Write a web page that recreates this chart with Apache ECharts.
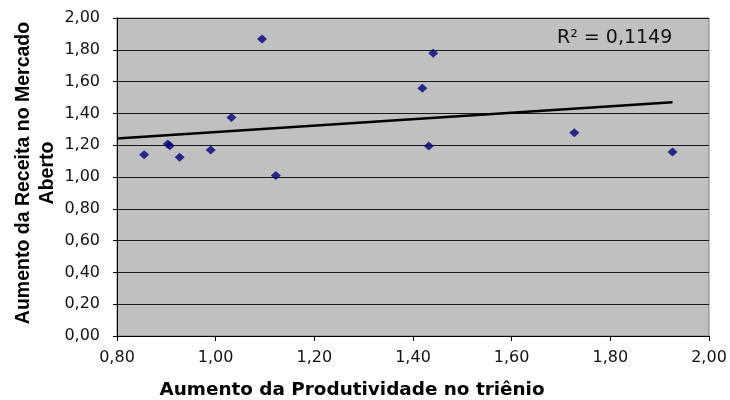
<!DOCTYPE html>
<html>
<head>
<meta charset="utf-8">
<script src="https://cdn.jsdelivr.net/npm/echarts@6/dist/echarts.min.js"></script>
<style>
  html, body { margin: 0; padding: 0; background: #fff; }
  #chart { width: 730px; height: 400px; }
</style>
</head>
<body>
<div id="chart"></div>
<script>
// Productivity increase over the three-year period (x) vs. open-market revenue increase (y)
const produtividade = [0.855, 0.903, 0.907, 0.927, 0.990, 1.032, 1.094, 1.122, 1.419, 1.432, 1.441, 1.727, 1.926];
const receita       = [1.140, 1.208, 1.196, 1.124, 1.170, 1.375, 1.868, 1.010, 1.558, 1.195, 1.778, 1.279, 1.157];

// Linear trend line endpoints and its coefficient of determination
const tendenciaX = [0.80, 1.926];
const tendenciaY = [1.242, 1.470];
const r2Texto = 'R² = 0,1149';

// Axis ranges and tick step
const eixoX = { min: 0.8, max: 2.0, step: 0.2 };
const eixoY = { min: 0.0, max: 2.0, step: 0.2 };

const tituloX = 'Aumento da Produtividade no triênio';
const tituloY = 'Aumento da Receita no Mercado\nAberto';

const pontos = produtividade.map((x, i) => [x, receita[i]]);
const tendencia = tendenciaX.map((x, i) => [x, tendenciaY[i]]);

const fmt = v => v.toFixed(2).replace('.', ',');
const tickFont = { fontFamily: 'DejaVu Sans', fontSize: 16, color: '#111' };

const chart = echarts.init(document.getElementById('chart'), null, { renderer: 'canvas' });
chart.setOption({
  animation: false,
  backgroundColor: '#ffffff',
  grid: {
    left: 117, right: 21, top: 18, bottom: 64,
    show: true,
    backgroundColor: '#c0c0c0',
    borderColor: '#808080',
    borderWidth: 1
  },
  xAxis: {
    type: 'value',
    min: eixoX.min, max: eixoX.max, interval: eixoX.step,
    axisLine: { show: true, onZero: false, lineStyle: { color: '#000', width: 1 } },
    axisTick: { show: true, inside: false, length: 5, lineStyle: { color: '#000' } },
    axisLabel: Object.assign({ margin: 14, formatter: fmt }, tickFont),
    splitLine: { show: false }
  },
  yAxis: {
    type: 'value',
    min: eixoY.min, max: eixoY.max, interval: eixoY.step,
    axisLine: { show: true, onZero: false, lineStyle: { color: '#000', width: 1 } },
    axisTick: { show: true, inside: false, length: 4, lineStyle: { color: '#000' } },
    axisLabel: Object.assign({ margin: 17, formatter: fmt }, tickFont),
    splitLine: { show: true, lineStyle: { color: '#1a1a1a', width: 1 } }
  },
  series: [
    {
      type: 'line',
      data: tendencia,
      showSymbol: false,
      symbol: 'none',
      silent: true,
      lineStyle: { color: '#000', width: 2.5 },
      z: 2
    },
    {
      type: 'scatter',
      data: pontos,
      symbol: 'diamond',
      symbolSize: [10, 9],
      itemStyle: { color: '#00007a' },
      z: 3
    }
  ],
  graphic: [
    {
      type: 'text',
      x: 352, y: 390,
      style: {
        text: tituloX,
        font: 'bold 18.4px "DejaVu Sans"',
        fill: '#000',
        textAlign: 'center',
        textVerticalAlign: 'middle'
      }
    },
    {
      type: 'text',
      x: 35.5, y: 173,
      rotation: Math.PI / 2,
      style: {
        text: tituloY,
        font: 'bold 19.5px "Liberation Sans"',
        lineHeight: 24,
        fill: '#000',
        textAlign: 'center',
        textVerticalAlign: 'middle'
      }
    },
    {
      type: 'text',
      x: 557, y: 38,
      z: 10,
      style: {
        text: r2Texto,
        font: '19px "DejaVu Sans"',
        fill: '#111',
        textAlign: 'left',
        textVerticalAlign: 'middle'
      }
    }
  ]
});
</script>
</body>
</html>
